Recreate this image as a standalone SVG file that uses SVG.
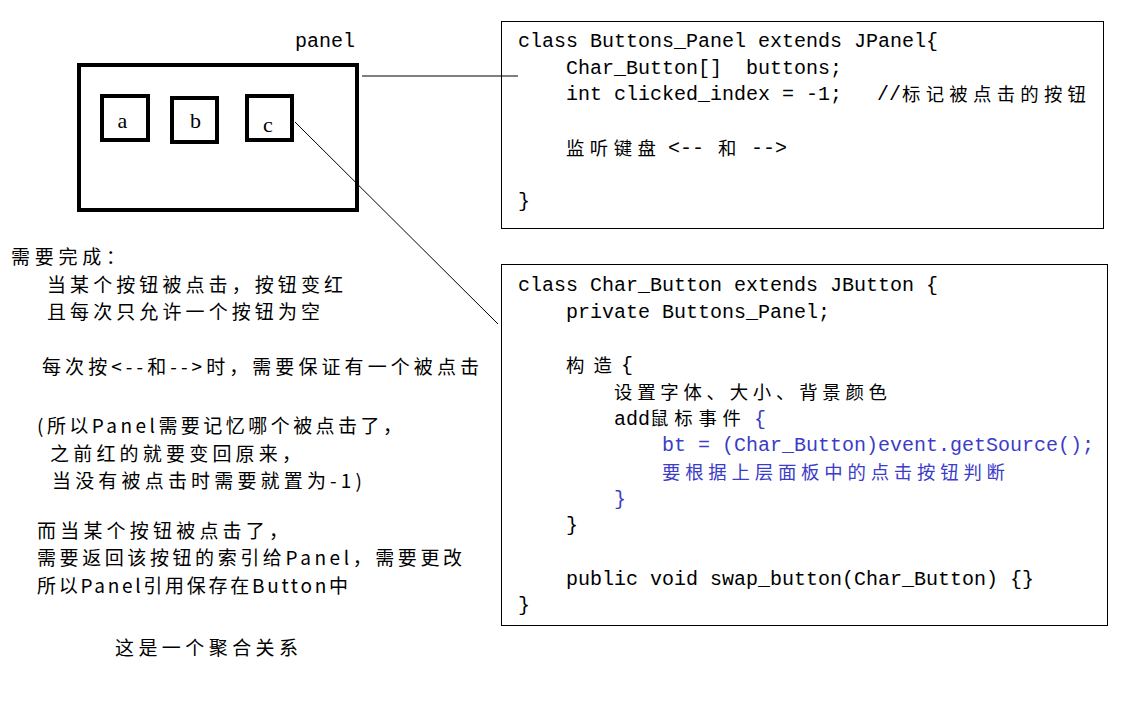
<svg xmlns="http://www.w3.org/2000/svg" width="1142" height="721" viewBox="0 0 1142 721">
<style>
.bg{fill:#fff}
.thick{fill:none;stroke:#000;stroke-width:4}
.box{fill:#fff;stroke:#000;stroke-width:1}
.conn{fill:none;stroke:#000;stroke-width:1}
.code{font-family:"Liberation Mono","Noto Sans CJK SC",monospace;font-size:20px;fill:#000}
.cjk{font-family:"Noto Sans CJK SC","Noto Sans CJK TC",sans-serif;font-size:18.4px;fill:#000}
.note{font-family:"Noto Sans CJK SC","Noto Sans CJK TC",sans-serif;font-size:19px;fill:#000}
.lbl{font-family:"Liberation Serif","Noto Sans CJK SC",serif;font-size:22px;fill:#000;text-anchor:middle}
.blue{fill:#3c3cc8}
</style>
<rect class="bg" x="0" y="0" width="1142" height="721"/>

<g id="node-panel">
  <text class="code" x="295" y="47">panel</text>
  <rect class="thick" x="79" y="65" width="278" height="145"/>
</g>
<g id="node-button-a">
  <rect class="thick" x="102" y="96" width="46" height="44"/>
  <text class="lbl" x="122.5" y="128">a</text>
</g>
<g id="node-button-b">
  <rect class="thick" x="172" y="98" width="45" height="44"/>
  <text class="lbl" x="195.5" y="128">b</text>
</g>
<g id="node-button-c">
  <rect class="thick" x="247" y="96" width="45" height="44"/>
  <text class="lbl" x="268" y="132">c</text>
</g>

<g id="node-buttons-panel-class">
  <rect class="box" x="501.5" y="21.5" width="602" height="207"/>
  <text class="code" x="518" y="47">class Buttons_Panel extends JPanel{</text>
  <text class="code" x="566" y="73.7">Char_Button[]<tspan x="746">buttons;</tspan></text>
  <text class="code" x="566" y="100.4">int clicked_index = -1;<tspan x="877">//</tspan></text>
  <text class="cjk" x="902" y="101.2" textLength="184" lengthAdjust="spacing">标记被点击的按钮</text>
  <text class="cjk" x="566" y="155" textLength="90" lengthAdjust="spacing">监听键盘</text>
  <text class="code" x="668" y="154">&lt;--</text>
  <text class="cjk" x="718" y="155">和</text>
  <text class="code" x="751" y="154">--&gt;</text>
  <text class="code" x="518" y="207.2">}</text>
</g>

<g id="node-char-button-class">
  <rect class="box" x="501.5" y="264.5" width="606" height="361"/>
  <text class="code" x="518" y="291">class Char_Button extends JButton {</text>
  <text class="code" x="566" y="317.7">private Buttons_Panel;</text>
  <text class="cjk" x="566" y="371.5" textLength="46" lengthAdjust="spacing">构造</text>
  <text class="code" x="621" y="371.1">{</text>
  <text class="cjk" x="614" y="398.5" textLength="273" lengthAdjust="spacing">设置字体、大小、背景颜色</text>
  <text class="code" x="614" y="424.5">add</text>
  <text class="cjk" x="650" y="425.2" textLength="91" lengthAdjust="spacing">鼠标事件</text>
  <text class="code blue" x="754" y="424.5">{</text>
  <text class="code blue" x="662" y="451.2">bt = (Char_Button)event.getSource();</text>
  <text class="cjk blue" x="662" y="478.6" textLength="343" lengthAdjust="spacing">要根据上层面板中的点击按钮判断</text>
  <text class="code blue" x="614" y="504.6">}</text>
  <text class="code" x="566" y="531.3">}</text>
  <text class="code" x="566" y="584.7">public void swap_button(Char_Button) {}</text>
  <text class="code" x="518" y="611.4">}</text>
</g>

<g id="notes">
  <text class="note" x="11" y="264" textLength="114" lengthAdjust="spacing">需要完成：</text>
  <text class="note" x="47" y="291.5" textLength="296" lengthAdjust="spacing">当某个按钮被点击，按钮变红</text>
  <text class="note" x="47" y="319" textLength="273" lengthAdjust="spacing">且每次只允许一个按钮为空</text>
  <text class="note" x="42" y="374" textLength="437" lengthAdjust="spacing">每次按&lt;--和--&gt;时，需要保证有一个被点击</text>
  <text class="note" x="37" y="433" textLength="365" lengthAdjust="spacing">(所以Panel需要记忆哪个被点击了，</text>
  <text class="note" x="50" y="460.5" textLength="251" lengthAdjust="spacing">之前红的就要变回原来，</text>
  <text class="note" x="52" y="488" textLength="310" lengthAdjust="spacing">当没有被点击时需要就置为-1)</text>
  <text class="note" x="37" y="537.5" textLength="251" lengthAdjust="spacing">而当某个按钮被点击了，</text>
  <text class="note" x="37" y="565" textLength="425" lengthAdjust="spacing">需要返回该按钮的索引给Panel，需要更改</text>
  <text class="note" x="37" y="592.5" textLength="311" lengthAdjust="spacing">所以Panel引用保存在Button中</text>
  <text class="note" x="115" y="655" textLength="183" lengthAdjust="spacing">这是一个聚合关系</text>
</g>

<g id="connectors">
  <line class="conn" x1="362" y1="76" x2="518" y2="76"/>
  <line class="conn" x1="295" y1="122" x2="498" y2="324"/>
</g>
</svg>
